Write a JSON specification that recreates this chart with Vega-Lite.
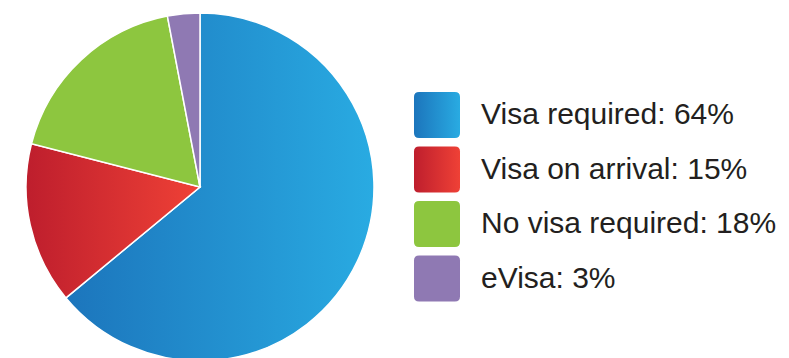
{
  "$schema": "https://vega.github.io/schema/vega-lite/v6.json",
  "padding": {"left": 23, "top": 10, "right": 0, "bottom": 0},
  "background": "white",
  "spacing": 37,
  "config": {"view": {"stroke": null}},
  "data": {
    "values": [
      {"label": "Visa required: 64%", "share": 64, "ord": 1},
      {"label": "Visa on arrival: 15%", "share": 15, "ord": 2},
      {"label": "No visa required: 18%", "share": 18, "ord": 3},
      {"label": "eVisa: 3%", "share": 3, "ord": 4}
    ]
  },
  "hconcat": [
    {
      "width": 348,
      "height": 348,
      "mark": {"type": "arc", "stroke": "white", "strokeWidth": 1.5},
      "encoding": {
        "theta": {"field": "share", "type": "quantitative", "stack": true},
        "order": {"field": "ord", "type": "quantitative"},
        "fill": {
          "condition": [
            {"test": "datum.ord === 1", "value": {"gradient": "linear", "x1": 0, "y1": 0, "x2": 1, "y2": 0, "stops": [{"offset": 0, "color": "#1c75bc"}, {"offset": 1, "color": "#29abe2"}]}},
            {"test": "datum.ord === 2", "value": {"gradient": "linear", "x1": 0, "y1": 0, "x2": 1, "y2": 0, "stops": [{"offset": 0, "color": "#be1e2d"}, {"offset": 1, "color": "#ef4136"}]}},
            {"test": "datum.ord === 3", "value": "#8dc63f"}
          ],
          "value": "#8f79b3"
        }
      }
    },
    {
      "width": 40,
      "height": 348,
      "encoding": {
        "y": {
          "field": "label",
          "type": "nominal",
          "scale": {
            "domain": ["Visa required: 64%", "Visa on arrival: 15%", "No visa required: 18%", "eVisa: 3%"],
            "range": [102, 265.5],
            "padding": 0
          },
          "axis": null
        }
      },
      "layer": [
        {
          "mark": {
            "type": "point",
            "filled": true,
            "opacity": 1,
            "strokeWidth": 0,
            "size": 2116,
            "shape": "M-0.78,-1L0.78,-1Q1,-1,1,-0.78L1,0.78Q1,1,0.78,1L-0.78,1Q-1,1,-1,0.78L-1,-0.78Q-1,-1,-0.78,-1Z"
          },
          "encoding": {
            "fill": {
              "condition": [
                {"test": "datum.ord === 1", "value": {"gradient": "linear", "x1": 0, "y1": 0, "x2": 1, "y2": 0, "stops": [{"offset": 0, "color": "#1c75bc"}, {"offset": 1, "color": "#29abe2"}]}},
                {"test": "datum.ord === 2", "value": {"gradient": "linear", "x1": 0, "y1": 0, "x2": 1, "y2": 0, "stops": [{"offset": 0, "color": "#be1e2d"}, {"offset": 1, "color": "#ef4136"}]}},
                {"test": "datum.ord === 3", "value": "#8dc63f"}
              ],
              "value": "#8f79b3"
            }
          }
        },
        {
          "mark": {
            "type": "text",
            "align": "left",
            "baseline": "middle",
            "dx": 44,
            "fontSize": 30,
            "font": "Liberation Sans",
            "color": "#231f20"
          },
          "encoding": {
            "text": {"field": "label", "type": "nominal"}
          }
        }
      ]
    }
  ]
}
